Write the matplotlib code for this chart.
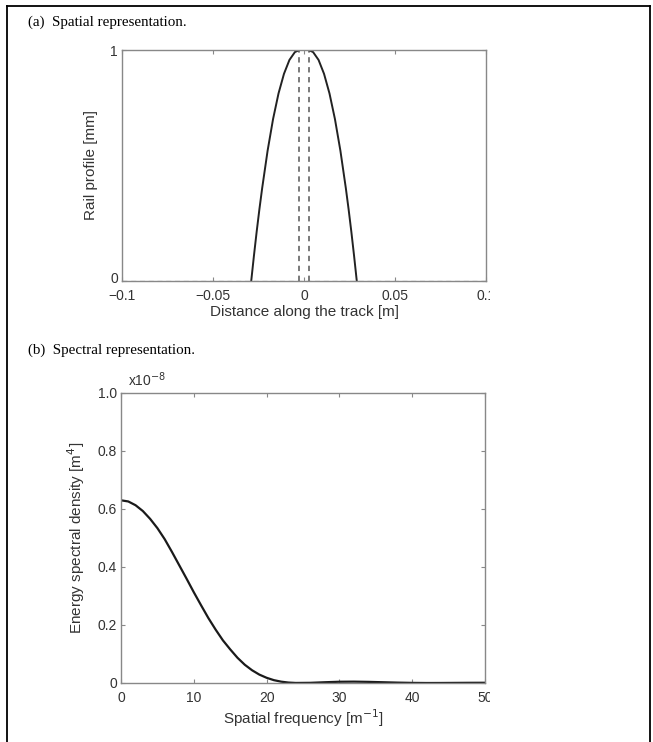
import matplotlib
matplotlib.use("Agg")
import matplotlib.pyplot as plt
from matplotlib.lines import Line2D
from matplotlib.transforms import Bbox, TransformedBbox, ScaledTranslation

# ---------------- data ----------------
# (a) rail profile, arch part [m], [mm]
prof_x = [-0.029, -0.0275, -0.026, -0.0245, -0.023, -0.020, -0.017, -0.014, -0.011,
          -0.008, -0.005, -0.0025, 0.0, 0.0025, 0.005, 0.008, 0.011, 0.014, 0.017,
          0.020, 0.023, 0.0245, 0.026, 0.0275, 0.029]
prof_y = [0.0, 0.11, 0.214, 0.311, 0.401, 0.564, 0.701, 0.812, 0.897,
          0.957, 0.991, 1.0, 1.0, 1.0, 0.991, 0.957, 0.897, 0.812, 0.701,
          0.564, 0.401, 0.311, 0.214, 0.11, 0.0]
dash_x = [-0.0025, 0.0025]
prof_xticks = [-0.1, -0.05, 0, 0.05, 0.1]
prof_xticklabels = ["\u22120.1", "\u22120.05", "0", "0.05", "0.1"]
prof_yticks = [0, 1]
prof_yticklabels = ["0", "1"]

# (b) energy spectral density, in units of 1e-8 m^4
freq = [0, 1, 2, 3, 4, 5, 6, 7, 8, 9, 10, 11, 12, 13, 14, 15, 16, 17, 18, 19,
        20, 21, 22, 23, 24, 26, 28, 30, 32, 34, 36, 38, 40, 42, 44, 46, 48, 50]
esd = [0.630, 0.626, 0.613, 0.593, 0.566, 0.534, 0.496, 0.452, 0.406, 0.360,
       0.313, 0.268, 0.224, 0.184, 0.147, 0.116, 0.087, 0.063, 0.044, 0.029,
       0.018, 0.0098, 0.0046, 0.0015, 0.0002, 0.0006, 0.0026, 0.0043, 0.0047,
       0.0039, 0.0026, 0.0013, 0.0004, 0.0, 0.0001, 0.0004, 0.0007, 0.0008]
esd_xticks = [0, 10, 20, 30, 40, 50]
esd_xticklabels = ["0", "10", "20", "30", "40", "50"]
esd_yticks = [0, 0.2, 0.4, 0.6, 0.8, 1.0]
esd_yticklabels = ["0", "0.2", "0.4", "0.6", "0.8", "1.0"]

# ---------------- figure ----------------
W, H = 653, 742
fig = plt.figure(figsize=(W / 100, H / 100), dpi=100)
fig.patch.set_facecolor("white")

sans = ["Liberation Sans", "DejaVu Sans"]
serif = ["Liberation Serif", "DejaVu Serif"]
tick_col = "#333333"
spine_col = "#888888"


def px(x0, y0, x1, y1):
    return [x0 / W, 1 - y1 / H, (x1 - x0) / W, (y1 - y0) / H]


def style(ax):
    for s in ax.spines.values():
        s.set_color(spine_col)
        s.set_linewidth(1.0)
    ax.tick_params(direction="in", length=3, width=0.8, color=spine_col,
                   top=True, right=True, labelsize=10, labelcolor=tick_col)
    ax.tick_params(axis="x", pad=5.5)
    ax.tick_params(axis="y", pad=3)
    for lbl in ax.get_xticklabels() + ax.get_yticklabels():
        lbl.set_family(sans)


# frame around the figure
lw = 1.3
fig.add_artist(Line2D([7 / W, 7 / W], [0, 1 - 6 / H], color="black", lw=lw))
fig.add_artist(Line2D([7 / W, 650 / W], [1 - 6 / H, 1 - 6 / H], color="black", lw=lw))
fig.add_artist(Line2D([650 / W, 650 / W], [0, 1 - 6 / H], color="black", lw=lw))

clip = TransformedBbox(Bbox([[0, 0], [490 / W, 1]]), fig.transFigure)

# ---- (a) ----
fig.text(28 / W, 1 - 22 / H, "(a)  Spatial representation.", family=serif,
         fontsize=10.8, va="center", ha="left", color="black")
ax1 = fig.add_axes(px(122, 50, 486, 281))
ax1.plot([-0.1, 0.1], [0, 0], color="#999999", lw=0.9, ls=(0, (4, 3)))
for dx in dash_x:
    ax1.plot([dx, dx], [0, 1], color="#555555", lw=1.1, ls=(0, (3.5, 3)))
ax1.plot(prof_x, prof_y, color="#222222", lw=1.4, solid_joinstyle="round")
ax1.set_xlim(-0.1, 0.1)
ax1.set_ylim(0, 1)
ax1.set_xticks(prof_xticks)
ax1.set_xticklabels(prof_xticklabels)
ax1.set_yticks(prof_yticks)
ax1.set_yticklabels(prof_yticklabels)
style(ax1)
ax1.set_xlabel("Distance along the track [m]", family=sans, fontsize=11,
               color=tick_col, labelpad=2)
ax1.set_ylabel("Rail profile [mm]", family=sans, fontsize=11, color=tick_col,
               labelpad=9)
for lbl in ax1.get_xticklabels():
    lbl.set_clip_on(True)
    lbl.set_clip_box(clip)
# lift the lower y tick label a little so it clears the x tick label
ylbl0 = ax1.get_yticklabels()[0]
ylbl0.set_transform(ylbl0.get_transform() + ScaledTranslation(0, 2.5 / 72, fig.dpi_scale_trans))

# ---- (b) ----
fig.text(28 / W, 1 - 350 / H, "(b)  Spectral representation.", family=serif,
         fontsize=10.8, va="center", ha="left", color="black")
ax2 = fig.add_axes(px(121, 393, 485, 683))
ax2.plot(freq, esd, color="#1a1a1a", lw=1.6, solid_joinstyle="round")
ax2.set_xlim(0, 50)
ax2.set_ylim(0, 1.0)
ax2.set_xticks(esd_xticks)
ax2.set_xticklabels(esd_xticklabels)
ax2.set_yticks(esd_yticks)
ax2.set_yticklabels(esd_yticklabels)
style(ax2)
ax2.set_xlabel("Spatial frequency [m$^{-1}$]", family=sans, fontsize=11,
               color=tick_col, labelpad=2)
ax2.set_ylabel("Energy spectral density [m$^{4}$]", family=sans, fontsize=11,
               color=tick_col, labelpad=7.5)
ax2.text(0.02, 1.015, "x10$^{-8}$", transform=ax2.transAxes, family=sans,
         fontsize=10, color=tick_col, ha="left", va="bottom")
for lbl in ax2.get_xticklabels():
    lbl.set_clip_on(True)
    lbl.set_clip_box(clip)

fig.savefig("out.png", dpi=100)
